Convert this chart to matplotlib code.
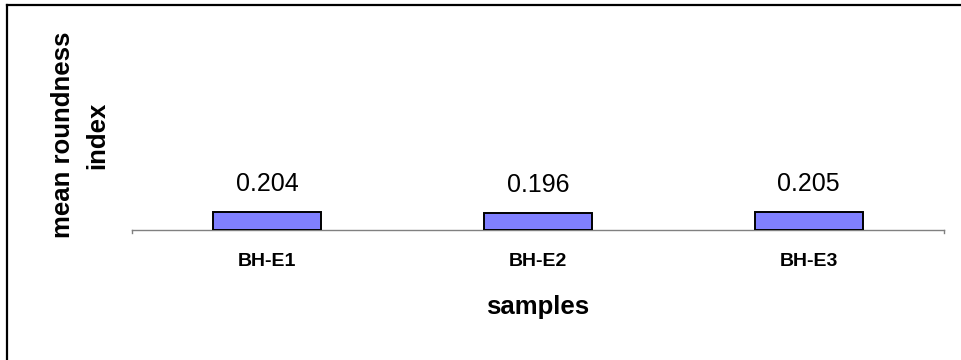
import matplotlib
matplotlib.use("Agg")
import matplotlib.pyplot as plt
from matplotlib.lines import Line2D

plt.rcParams["font.family"] = ["Liberation Sans", "DejaVu Sans"]

# data
samples = ["BH-E1", "BH-E2", "BH-E3"]
roundness = [0.204, 0.196, 0.205]
value_labels = ["0.204", "0.196", "0.205"]

fig = plt.figure(figsize=(9.62, 3.6), dpi=100)
ax = fig.add_axes([0.1372, 0.36, 0.8441, 0.529])

x = range(len(samples))
bars = ax.bar(x, roundness, width=0.4, color="#8080ff", edgecolor="black",
              linewidth=1.4, zorder=3)

for bar, txt in zip(bars, value_labels):
    ax.annotate(txt, (bar.get_x() + bar.get_width() / 2, bar.get_height()),
                xytext=(0, 20), textcoords="offset points",
                ha="center", va="center", fontsize=18)

ax.set_xlim(-0.5, len(samples) - 0.5)
ax.set_ylim(0, 2.1)

# only the category axis is drawn, in grey, with end ticks
for side in ["left", "right", "top"]:
    ax.spines[side].set_visible(False)
ax.spines["bottom"].set_color("#808080")
ax.spines["bottom"].set_linewidth(1.0)
ax.set_yticks([])
ax.set_xticks(list(x))
ax.set_xticklabels(samples, fontsize=14, fontweight="bold")
ax.tick_params(axis="x", length=0, pad=16)
for xe in [-0.5, len(samples) - 0.5]:
    ax.plot([xe, xe], [0, -0.03], color="#808080", lw=1.0, clip_on=False)

ax.set_xlabel("samples", fontsize=18.5, fontweight="bold", labelpad=18)

fig.text(0.083, 0.625, "mean roundness\nindex", rotation=90, ha="center",
         va="center", fontsize=18.5, fontweight="bold", linespacing=1.55)

# chart frame (only top and left edges fall inside the picture)
fig.add_artist(Line2D([6.5 / 962, 6.5 / 962], [0, 1 - 5 / 360],
                      transform=fig.transFigure, color="black", lw=1.6))
fig.add_artist(Line2D([6.5 / 962, 1], [1 - 5 / 360, 1 - 5 / 360],
                      transform=fig.transFigure, color="black", lw=1.6))

fig.savefig("out.png", dpi=100)
